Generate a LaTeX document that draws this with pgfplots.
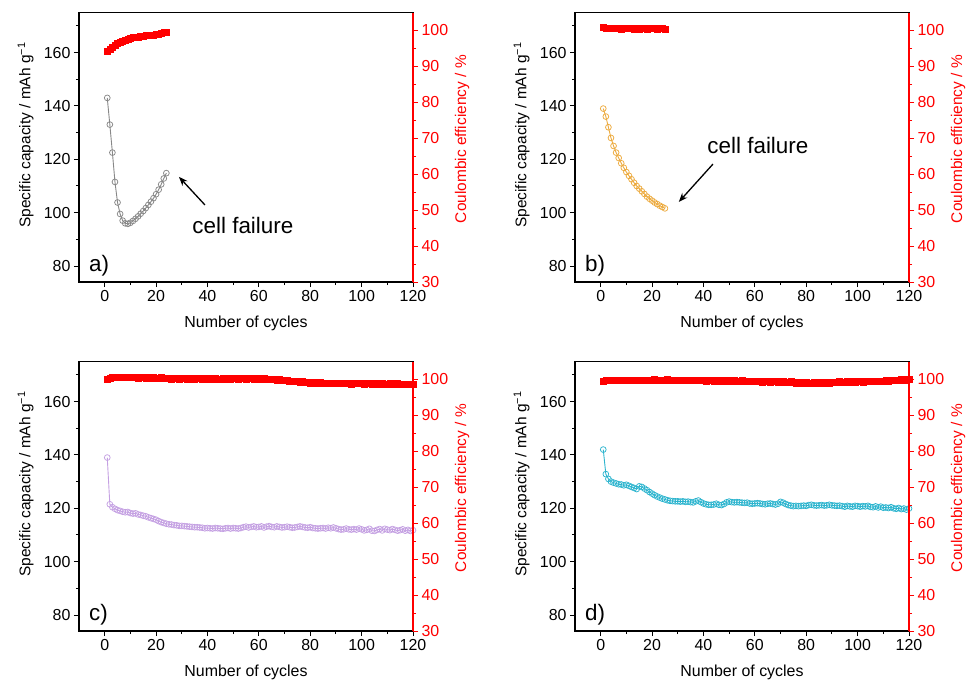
\documentclass[border=0pt]{standalone}
\usepackage{fontspec}
\setmainfont{Liberation Sans}
\usepackage{pgfplots}
\pgfplotsset{compat=1.18}
\usetikzlibrary{arrows.meta}

\definecolor{capgray}{RGB}{135,135,135}
\definecolor{caporange}{RGB}{236,170,62}
\definecolor{cappurple}{RGB}{196,160,226}
\definecolor{capcyan}{RGB}{44,180,206}

\newcommand\lbl{\fontsize{16}{19}\selectfont}
\newcommand\ylbl{\fontsize{15.5}{18}\selectfont}
\newcommand\annot{\fontsize{22.5}{26}\selectfont}

\pgfplotsset{
  capaxis/.style={
    width=334bp, height=269.5bp, scale only axis,
    xmin=-10, xmax=120, ymin=74, ymax=175,
    xtick={0,20,...,120}, ytick={80,100,...,160},
    minor xtick={10,30,...,110}, minor ytick={90,110,...,170},
    xtick pos=bottom, ytick pos=left, tick align=outside,
    major tick length=5bp, minor tick length=3bp,
    axis line style={line width=1.1bp},
    tick style={line width=0.9bp, black},
    /pgf/number format/assume math mode=true,
    tick label style={font=\lbl},
    xlabel={Number of cycles},
    ylabel={Specific capacity / mAh g\textsuperscript{−1}},
    every axis x label/.style={at={(axis description cs:0.5,-0.155)}, anchor=center, font=\lbl},
    every axis y label/.style={at={(axis description cs:-0.16,0.545)}, rotate=90, anchor=center, font=\ylbl},
  },
  ceaxis/.style={
    width=334bp, height=269.5bp, scale only axis,
    xmin=-10, xmax=120, ymin=30, ymax=105,
    axis x line=none, axis y line=right,
    ytick={30,40,...,100}, minor ytick={35,45,...,95},
    tick align=outside,
    major tick length=5bp, minor tick length=3bp,
    y axis line style={line width=1.1bp, red, -},
    tick style={line width=0.9bp, red},
    /pgf/number format/assume math mode=true,
    yticklabel style={font=\lbl, red},
    ylabel={Coulombic efficiency / \%},
    every axis y label/.style={at={(axis description cs:1.147,0.53)}, rotate=90, anchor=center, font=\ylbl, red},
  },
  capline/.style={mark=o, mark size=2.9bp, line width=0.9bp, mark options={fill=white, line width=0.75bp}},
  celine/.style={only marks, mark=square*, mark size=3bp, red, mark options={draw=red, fill=red}},
}

\begin{document}
\begin{tikzpicture}
\useasboundingbox (0,0) rectangle (966bp,-683bp);

% ---------------- a) ----------------
\begin{axis}[capaxis, at={(79bp,-282bp)}, anchor=south west]
\addplot[capline, color=capgray] coordinates {
(1,143.0)(2,133.0)(3,122.5)(4,111.5)(5,103.8)(6,99.5)(7,97.0)(8,96.0)(9,95.8)(10,96.2)
(11,96.9)(12,97.7)(13,98.6)(14,99.6)(15,100.6)(16,101.7)(17,102.9)(18,104.1)(19,105.4)(20,106.9)
(21,108.6)(22,110.6)(23,112.8)(24,114.8)};
\node[font=\annot] at (axis cs:53.8,95) {cell failure};
\draw[-{Stealth[length=9bp,width=7bp]}, line width=1.3bp] (axis cs:39,102.9) -- (axis cs:28.9,113.4);
\node[anchor=base west, font=\annot] at (rel axis cs:0.02,0.04) {a)};
\end{axis}
\begin{axis}[ceaxis, at={(79bp,-282bp)}, anchor=south west]
\addplot[celine] coordinates {
(1,94.1)(2,94.8)(3,95.4)(4,95.9)(5,96.4)(6,96.8)(7,97.1)(8,97.4)(9,97.6)(10,97.8)
(11,98.0)(12,98.1)(13,98.2)(14,98.4)(15,98.5)(16,98.6)(17,98.7)(18,98.7)(19,98.8)(20,98.9)
(21,99.0)(22,99.2)(23,99.4)(24,99.6)};
\end{axis}

% ---------------- b) ----------------
\begin{axis}[capaxis, at={(575bp,-282bp)}, anchor=south west]
\addplot[capline, color=caporange] coordinates {
(1,139.0)(2,136.0)(3,132.0)(4,128.0)(5,125.0)(6,122.5)(7,120.5)(8,118.5)(9,116.8)(10,115.2)
(11,113.8)(12,112.5)(13,111.2)(14,110.0)(15,109.0)(16,108.0)(17,107.0)(18,106.0)(19,105.2)(20,104.5)
(21,103.8)(22,103.2)(23,102.6)(24,102.1)(25,101.6)};
\node[font=\annot] at (axis cs:61.2,125.3) {cell failure};
\draw[-{Stealth[length=9bp,width=7bp]}, line width=1.3bp] (axis cs:43.7,118.2) -- (axis cs:30.4,104);
\node[anchor=base west, font=\annot] at (rel axis cs:0.02,0.04) {b)};
\end{axis}
\begin{axis}[ceaxis, at={(575bp,-282bp)}, anchor=south west]
\addplot[celine] coordinates {
(1,100.8)(2,100.7)(3,100.6)(4,100.7)(5,100.5)(6,100.6)(7,100.5)(8,100.4)(9,100.6)(10,100.5)
(11,100.7)(12,100.6)(13,100.4)(14,100.5)(15,100.3)(16,100.6)(17,100.5)(18,100.4)(19,100.6)(20,100.7)
(21,100.5)(22,100.4)(23,100.6)(24,100.5)(25,100.4)};
\end{axis}

% ---------------- c) ----------------
\begin{axis}[capaxis, at={(79bp,-631bp)}, anchor=south west]
\addplot[capline, color=cappurple] coordinates {
(1,139.0)(2,121.5)(3,120.4)(4,119.8)(5,119.3)(6,119.0)(7,118.7)(8,118.5)(9,118.6)(10,118.2)
(11,118.0)(12,118.1)(13,117.7)(14,117.5)(15,117.2)(16,117.0)(17,116.6)(18,116.3)(19,116.0)(20,115.7)
(21,115.2)(22,114.8)(23,114.5)(24,114.2)(25,114.0)(26,113.9)(27,113.7)(28,113.6)(29,113.4)(30,113.4)
(31,113.3)(32,113.2)(33,113.1)(34,113.0)(35,112.9)(36,112.9)(37,112.8)(38,112.7)(39,112.5)(40,112.6)
(41,112.5)(42,112.4)(43,112.6)(44,112.5)(45,112.4)(46,112.3)(47,112.5)(48,112.6)(49,112.4)(50,112.6)
(51,112.5)(52,112.4)(53,112.6)(54,112.9)(55,113.1)(56,112.8)(57,113.0)(58,113.2)(59,112.9)(60,113.0)
(61,113.2)(62,112.8)(63,113.1)(64,113.3)(65,113.0)(66,112.9)(67,113.2)(68,113.0)(69,112.8)(70,112.9)
(71,113.1)(72,112.9)(73,112.7)(74,112.8)(75,113.0)(76,113.2)(77,113.0)(78,112.8)(79,112.7)(80,112.9)
(81,112.6)(82,112.5)(83,112.4)(84,112.5)(85,112.6)(86,112.4)(87,112.7)(88,112.5)(89,112.8)(90,112.5)
(91,112.2)(92,112.0)(93,112.1)(94,112.4)(95,112.1)(96,112.0)(97,112.2)(98,112.0)(99,112.4)(100,112.1)
(101,111.7)(102,111.9)(103,112.3)(104,111.6)(105,111.5)(106,111.9)(107,112.2)(108,111.7)(109,112.3)(110,112.0)
(111,111.8)(112,112.2)(113,111.9)(114,111.6)(115,111.8)(116,112.1)(117,111.6)(118,111.9)(119,111.5)(120,111.8)};
\node[anchor=base west, font=\annot] at (rel axis cs:0.02,0.04) {c)};
\end{axis}
\begin{axis}[ceaxis, at={(79bp,-631bp)}, anchor=south west]
\addplot[celine] coordinates {
(1,100.2)(2,100.4)(3,100.5)(4,100.6)(5,100.5)(6,100.7)(7,100.6)(8,100.5)(9,100.7)(10,100.6)
(11,100.5)(12,100.6)(13,100.4)(14,100.5)(15,100.6)(16,100.4)(17,100.5)(18,100.3)(19,100.5)(20,100.4)
(21,100.3)(22,100.5)(23,100.4)(24,100.3)(25,100.4)(26,100.2)(27,100.4)(28,100.3)(29,100.2)(30,100.4)
(31,100.3)(32,100.2)(33,100.4)(34,100.3)(35,100.2)(36,100.3)(37,100.4)(38,100.2)(39,100.3)(40,100.2)
(41,100.3)(42,100.1)(43,100.3)(44,100.2)(45,100.1)(46,100.3)(47,100.2)(48,100.3)(49,100.2)(50,100.4)
(51,100.3)(52,100.2)(53,100.3)(54,100.4)(55,100.2)(56,100.3)(57,100.4)(58,100.2)(59,100.3)(60,100.4)
(61,100.2)(62,100.3)(63,100.1)(64,100.2)(65,100.0)(66,100.1)(67,99.9)(68,100.0)(69,99.8)(70,99.7)
(71,99.8)(72,99.6)(73,99.5)(74,99.6)(75,99.4)(76,99.3)(77,99.4)(78,99.2)(79,99.3)(80,99.1)
(81,99.2)(82,99.0)(83,99.1)(84,99.2)(85,99.0)(86,99.1)(87,98.9)(88,99.0)(89,99.1)(90,99.0)
(91,98.9)(92,99.1)(93,99.0)(94,98.9)(95,99.0)(96,98.8)(97,99.0)(98,98.9)(99,99.1)(100,98.9)
(101,98.8)(102,99.0)(103,98.9)(104,98.8)(105,99.0)(106,98.9)(107,98.7)(108,98.9)(109,98.8)(110,98.7)
(111,98.9)(112,98.8)(113,98.7)(114,98.9)(115,98.8)(116,98.7)(117,98.8)(118,98.6)(119,98.8)(120,98.7)};
\end{axis}

% ---------------- d) ----------------
\begin{axis}[capaxis, at={(575bp,-631bp)}, anchor=south west]
\addplot[capline, color=capcyan] coordinates {
(1,142.0)(2,132.8)(3,131.0)(4,130.0)(5,129.6)(6,129.3)(7,129.0)(8,128.9)(9,128.6)(10,128.8)
(11,128.4)(12,128.0)(13,127.6)(14,127.2)(15,128.2)(16,128.0)(17,127.4)(18,126.8)(19,126.1)(20,125.5)
(21,124.9)(22,124.4)(23,124.0)(24,123.6)(25,123.3)(26,123.0)(27,122.8)(28,122.7)(29,122.6)(30,122.6)
(31,122.5)(32,122.6)(33,122.4)(34,122.5)(35,122.3)(36,122.2)(37,122.6)(38,122.9)(39,122.3)(40,121.8)
(41,121.5)(42,121.3)(43,121.3)(44,121.4)(45,121.7)(46,121.3)(47,121.2)(48,121.6)(49,122.2)(50,122.5)
(51,122.3)(52,122.2)(53,122.3)(54,122.2)(55,122.1)(56,122.0)(57,122.1)(58,121.8)(59,121.7)(60,121.8)
(61,121.9)(62,121.8)(63,121.6)(64,121.5)(65,121.7)(66,121.8)(67,121.6)(68,121.4)(69,121.7)(70,122.4)
(71,122.1)(72,121.6)(73,121.2)(74,121.0)(75,120.8)(76,120.9)(77,120.8)(78,120.9)(79,121.0)(80,120.9)
(81,121.2)(82,121.3)(83,121.1)(84,121.0)(85,121.1)(86,121.2)(87,121.0)(88,121.1)(89,121.3)(90,121.1)
(91,121.0)(92,120.9)(93,121.0)(94,120.8)(95,120.6)(96,120.9)(97,120.7)(98,120.6)(99,120.9)(100,120.8)
(101,120.6)(102,120.8)(103,120.7)(104,120.9)(105,120.5)(106,120.4)(107,120.7)(108,120.3)(109,120.6)(110,120.2)
(111,120.3)(112,120.1)(113,120.4)(114,120.0)(115,119.8)(116,120.1)(117,119.7)(118,119.9)(119,119.5)(120,119.9)};
\node[anchor=base west, font=\annot] at (rel axis cs:0.02,0.04) {d)};
\end{axis}
\begin{axis}[ceaxis, at={(575bp,-631bp)}, anchor=south west]
\addplot[celine] coordinates {
(1,99.6)(2,99.8)(3,99.7)(4,99.9)(5,99.8)(6,99.7)(7,99.9)(8,99.8)(9,99.9)(10,99.7)
(11,99.8)(12,99.9)(13,99.7)(14,99.8)(15,99.9)(16,99.8)(17,99.7)(18,99.9)(19,99.8)(20,99.9)
(21,100.0)(22,99.8)(23,99.9)(24,99.8)(25,99.9)(26,100.0)(27,99.8)(28,99.9)(29,99.7)(30,99.8)
(31,99.9)(32,99.8)(33,99.7)(34,99.9)(35,99.8)(36,99.7)(37,99.8)(38,99.9)(39,99.7)(40,99.8)
(41,99.6)(42,99.7)(43,99.8)(44,99.6)(45,99.7)(46,99.8)(47,99.6)(48,99.7)(49,99.5)(50,99.7)
(51,99.6)(52,99.7)(53,99.5)(54,99.6)(55,99.7)(56,99.5)(57,99.6)(58,99.4)(59,99.5)(60,99.6)
(61,99.4)(62,99.5)(63,99.3)(64,99.5)(65,99.4)(66,99.3)(67,99.5)(68,99.4)(69,99.3)(70,99.5)
(71,99.4)(72,99.2)(73,99.3)(74,99.4)(75,99.2)(76,99.1)(77,99.3)(78,99.2)(79,99.0)(80,99.2)
(81,99.1)(82,99.0)(83,99.2)(84,99.1)(85,99.0)(86,99.2)(87,99.1)(88,99.3)(89,99.1)(90,99.2)
(91,99.3)(92,99.2)(93,99.4)(94,99.3)(95,99.2)(96,99.4)(97,99.3)(98,99.4)(99,99.3)(100,99.5)
(101,99.4)(102,99.3)(103,99.5)(104,99.4)(105,99.5)(106,99.4)(107,99.6)(108,99.5)(109,99.4)(110,99.6)
(111,99.7)(112,99.6)(113,99.8)(114,99.7)(115,99.9)(116,99.8)(117,100.0)(118,99.9)(119,100.1)(120,100.0)};
\end{axis}
\end{tikzpicture}
\end{document}
